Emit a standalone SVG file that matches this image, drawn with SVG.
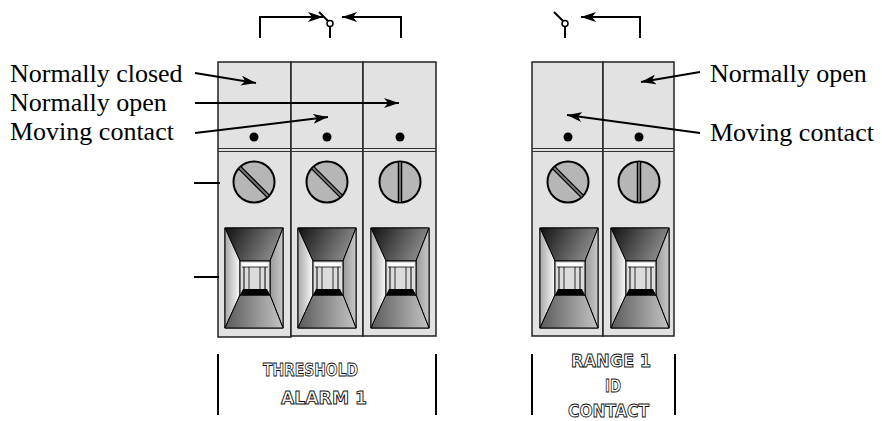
<svg xmlns="http://www.w3.org/2000/svg" xmlns:xlink="http://www.w3.org/1999/xlink" width="882" height="421" viewBox="0 0 882 421">
<style>
.col{fill:#e2e2e2;stroke:#222;stroke-width:1.5}
.sep{stroke:#333;stroke-width:1.2;fill:none}
.ln{stroke:#000;stroke-width:2;fill:none}
.lbl{font-size:26px;fill:#000}
.tag{font-size:17px;font-weight:bold;fill:#fff;stroke:#111;stroke-width:0.9}
.dot{fill:#000}
</style>
<defs>
<marker id="ah" markerUnits="userSpaceOnUse" markerWidth="16" markerHeight="10" refX="15" refY="5" orient="auto">
<path d="M0,0 L15,5 L0,10 L4,5 z" fill="#000"/>
</marker>
<linearGradient id="gTop" x1="0" y1="0" x2="1" y2="0.3">
<stop offset="0" stop-color="#111"/><stop offset="1" stop-color="#8a8a8a"/>
</linearGradient>
<linearGradient id="gLeft" x1="0" y1="0" x2="1" y2="0">
<stop offset="0" stop-color="#a8a8a8"/><stop offset="1" stop-color="#fafafa"/>
</linearGradient>
<linearGradient id="gRight" x1="0" y1="0" x2="1" y2="0">
<stop offset="0" stop-color="#9a9a9a"/><stop offset="1" stop-color="#c8c8c8"/>
</linearGradient>
<linearGradient id="gBot" x1="0" y1="0" x2="1" y2="0">
<stop offset="0" stop-color="#5a5a5a"/><stop offset="1" stop-color="#c4c4c4"/>
</linearGradient>
<g id="clamp">
<rect x="0" y="0" width="58" height="100" fill="#c8c8c8" stroke="#000" stroke-width="1"/>
<polygon points="0,0 58,0 45,33 15,33" fill="url(#gTop)" stroke="#000" stroke-width="1"/>
<polygon points="0,0 15,33 15,67 0,100" fill="url(#gLeft)" stroke="#000" stroke-width="1"/>
<polygon points="58,0 45,33 45,67 58,100" fill="url(#gRight)" stroke="#000" stroke-width="1"/>
<polygon points="15,67 45,67 58,100 0,100" fill="url(#gBot)" stroke="#000" stroke-width="1"/>
<rect x="15" y="33" width="30" height="34" fill="#dcdcdc" stroke="#000" stroke-width="1"/>
<rect x="17" y="35" width="26" height="4" fill="#fff"/>
<line x1="17" y1="39" x2="43" y2="39" stroke="#000" stroke-width="0.8"/>
<line x1="19" y1="39" x2="19" y2="62" stroke="#000" stroke-width="1"/>
<line x1="24" y1="39" x2="24" y2="62" stroke="#000" stroke-width="0.8"/>
<line x1="35" y1="39" x2="35" y2="62" stroke="#000" stroke-width="0.8"/>
<line x1="40" y1="39" x2="40" y2="62" stroke="#000" stroke-width="1"/>
<polygon points="18,61 42,61 45,67 15,67" fill="#000"/>
</g>
<g id="screwD">
<circle cx="0" cy="0" r="20.5" fill="#b6b6b6" stroke="#000" stroke-width="2"/>
<line x1="-14" y1="-14" x2="14" y2="14" stroke="#000" stroke-width="4.5"/>
<line x1="-14" y1="-14" x2="14" y2="14" stroke="#7a7a7a" stroke-width="1.8"/>
</g>
<g id="screwV">
<circle cx="0" cy="0" r="20.5" fill="#b6b6b6" stroke="#000" stroke-width="2"/>
<line x1="0" y1="-20" x2="0" y2="20" stroke="#000" stroke-width="4.5"/>
<line x1="0" y1="-20" x2="0" y2="20" stroke="#7a7a7a" stroke-width="1.8"/>
</g>
</defs>
<rect width="882" height="421" fill="#fff"/>

<g id="alarm-nc">
<rect class="col" x="218" y="62" width="73" height="275"/>
<line class="sep" x1="218" y1="148.5" x2="291" y2="148.5"/>
<line class="sep" x1="218" y1="151.5" x2="291" y2="151.5"/>
<circle class="dot" cx="254" cy="137" r="4.5"/>
<use xlink:href="#screwD" x="254" y="182"/>
<use xlink:href="#clamp" x="225" y="228"/>
</g>
<g id="alarm-no">
<rect class="col" x="291" y="62" width="72" height="274"/>
<line class="sep" x1="291" y1="148.5" x2="363" y2="148.5"/>
<line class="sep" x1="291" y1="151.5" x2="363" y2="151.5"/>
<circle class="dot" cx="327" cy="137" r="4.5"/>
<use xlink:href="#screwD" x="327" y="182"/>
<use xlink:href="#clamp" x="298" y="228"/>
</g>
<g id="alarm-mc">
<rect class="col" x="363" y="62" width="73" height="274"/>
<line class="sep" x1="363" y1="148.5" x2="436" y2="148.5"/>
<line class="sep" x1="363" y1="151.5" x2="436" y2="151.5"/>
<circle class="dot" cx="400" cy="137" r="4.5"/>
<use xlink:href="#screwV" x="400" y="182"/>
<use xlink:href="#clamp" x="371" y="228"/>
</g>
<g id="range-mc">
<rect class="col" x="532" y="62" width="71" height="274"/>
<line class="sep" x1="532" y1="148.5" x2="603" y2="148.5"/>
<line class="sep" x1="532" y1="151.5" x2="603" y2="151.5"/>
<circle class="dot" cx="568" cy="137" r="4.5"/>
<use xlink:href="#screwD" x="568" y="182"/>
<use xlink:href="#clamp" x="540" y="228"/>
</g>
<g id="range-no">
<rect class="col" x="603" y="62" width="71" height="274"/>
<line class="sep" x1="603" y1="148.5" x2="674" y2="148.5"/>
<line class="sep" x1="603" y1="151.5" x2="674" y2="151.5"/>
<circle class="dot" cx="639" cy="137" r="4.5"/>
<use xlink:href="#screwV" x="639" y="182"/>
<use xlink:href="#clamp" x="611" y="228"/>
</g>

<g id="switch-alarm">
<line class="ln" x1="319" y1="12" x2="328" y2="21"/>
<circle cx="330" cy="23.5" r="3" fill="#fff" stroke="#000" stroke-width="1.5"/>
<line class="ln" x1="330" y1="26.5" x2="330" y2="38"/>
</g>
<g id="switch-range">
<line class="ln" x1="554" y1="12" x2="563" y2="21"/>
<circle cx="565" cy="23.5" r="3" fill="#fff" stroke="#000" stroke-width="1.5"/>
<line class="ln" x1="565" y1="26.5" x2="565" y2="38"/>
</g>

<g id="labels" font-family="'Liberation Serif', 'Times New Roman', 'DejaVu Serif', serif">
<text class="lbl" x="10" y="82">Normally closed</text>
<text class="lbl" x="10" y="111">Normally open</text>
<text class="lbl" x="10" y="140">Moving contact</text>
<text class="lbl" x="710" y="82">Normally open</text>
<text class="lbl" x="710" y="141">Moving contact</text>
</g>
<g id="tags" font-family="'DejaVu Sans', 'Liberation Sans', sans-serif">
<text class="tag" x="263" y="376" textLength="95" lengthAdjust="spacingAndGlyphs">THRESHOLD</text>
<text class="tag" x="281" y="404" textLength="86" lengthAdjust="spacingAndGlyphs">ALARM 1</text>
<text class="tag" x="571" y="367" textLength="80" lengthAdjust="spacingAndGlyphs">RANGE 1</text>
<text class="tag" x="605" y="392" textLength="16" lengthAdjust="spacingAndGlyphs">ID</text>
<text class="tag" x="568" y="417" textLength="81" lengthAdjust="spacingAndGlyphs">CONTACT</text>
</g>

<g id="connectors">
<polyline class="ln" points="260,38 260,17 323,17" marker-end="url(#ah)"/>
<polyline class="ln" points="401,38 401,17 342,17" marker-end="url(#ah)"/>
<polyline class="ln" points="640,38 640,17 581,17" marker-end="url(#ah)"/>
<line class="ln" x1="195" y1="73" x2="256" y2="83" marker-end="url(#ah)"/>
<line class="ln" x1="195" y1="103" x2="399" y2="103" marker-end="url(#ah)"/>
<line class="ln" x1="195" y1="133" x2="328" y2="117" marker-end="url(#ah)"/>
<line class="ln" x1="700" y1="72" x2="641" y2="82" marker-end="url(#ah)"/>
<line class="ln" x1="700" y1="133" x2="567" y2="115" marker-end="url(#ah)"/>
<line class="ln" x1="194" y1="183" x2="220" y2="183"/>
<line class="ln" x1="194" y1="277" x2="219" y2="277"/>
<line class="ln" x1="218" y1="354" x2="218" y2="415"/>
<line class="ln" x1="436" y1="354" x2="436" y2="415"/>
<line class="ln" x1="532" y1="354" x2="532" y2="415"/>
<line class="ln" x1="675" y1="354" x2="675" y2="415"/>
</g>
</svg>
